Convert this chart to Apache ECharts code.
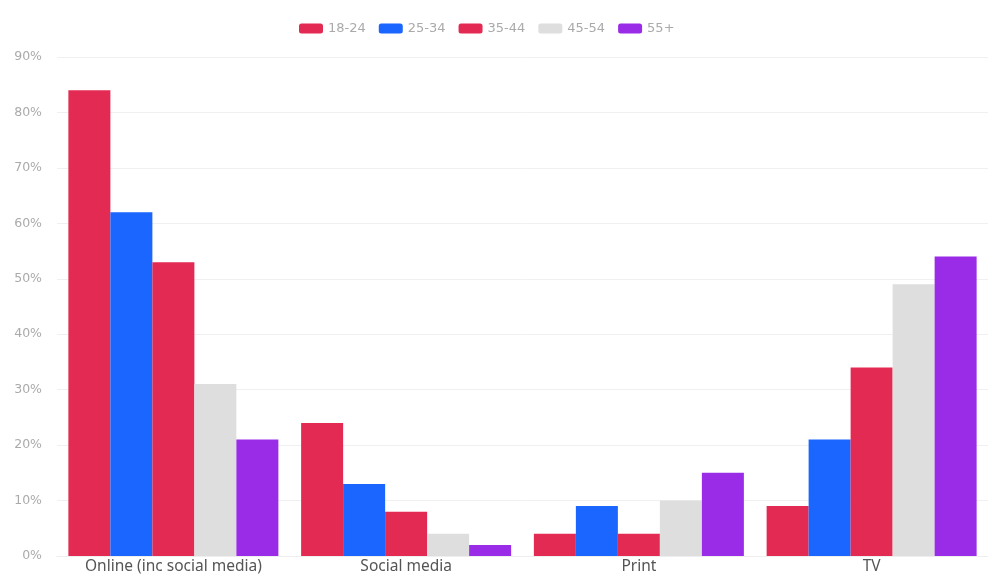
<!DOCTYPE html>
<html>
<head>
<meta charset="utf-8">
<script src="https://cdn.jsdelivr.net/npm/echarts@6/dist/echarts.min.js"></script>
<style>
html,body{margin:0;padding:0;background:#fff;}
#chart{width:988px;height:580px;}
</style>
</head>
<body>
<div id="chart"></div>
<script>
const categories = ["Online (inc social media)", "Social media", "Print", "TV"];
const ageGroups = ["18-24", "25-34", "35-44", "45-54", "55+"];
const age18_24 = [84, 24, 4, 9];
const age25_34 = [62, 13, 9, 21];
const age35_44 = [53, 8, 4, 34];
const age45_54 = [31, 4, 10, 49];
const age55plus = [21, 2, 15, 54];
const yTicks = [0, 10, 20, 30, 40, 50, 60, 70, 80, 90];

const colors = ["#e32a52", "#1b66ff", "#e32a52", "#dedede", "#9a2ce8"];
const seriesValues = [age18_24, age25_34, age35_44, age45_54, age55plus];

const chart = echarts.init(document.getElementById('chart'), null, {renderer: 'canvas'});
chart.setOption({
  animation: false,
  color: colors,
  legend: {
    top: 17,
    left: 294,
    itemWidth: 24,
    itemHeight: 10,
    itemGap: 13,
    icon: 'roundRect',
    textStyle: {color: '#aaa', fontSize: 13, fontFamily: 'DejaVu Sans'},
    data: ageGroups
  },
  grid: {left: 57, right: 0, top: 57, bottom: 24, containLabel: false},
  xAxis: {
    type: 'category',
    data: categories,
    axisTick: {show: false},
    axisLine: {show: true, lineStyle: {color: '#eeeeee'}},
    axisLabel: {color: '#555', fontSize: 15.5, fontFamily: 'Noto Sans', margin: 3}
  },
  yAxis: {
    type: 'value',
    min: yTicks[0],
    max: yTicks[yTicks.length - 1],
    interval: 10,
    axisLabel: {formatter: '{value}%', color: '#aaa', fontSize: 12.5, fontFamily: 'DejaVu Sans', margin: 15},
    splitLine: {lineStyle: {color: '#f0f0f0'}},
    axisLine: {show: false},
    axisTick: {show: false}
  },
  series: ageGroups.map((name, i) => ({
    name: name,
    type: 'bar',
    data: seriesValues[i],
    barWidth: 42,
    barGap: '0%',
    itemStyle: {color: colors[i]}
  }))
});
</script>
</body>
</html>
